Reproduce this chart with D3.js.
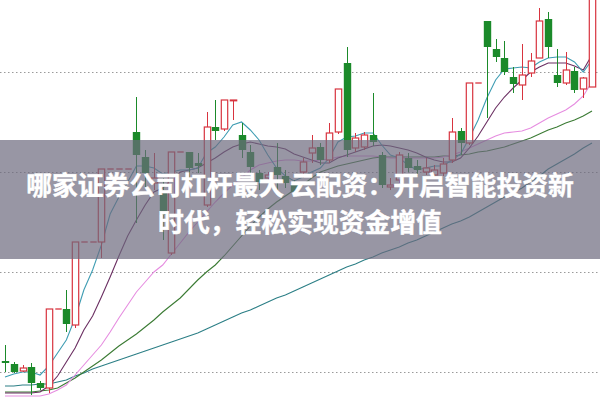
<!DOCTYPE html>
<html><head><meta charset="utf-8">
<script src="https://cdn.jsdelivr.net/npm/d3@7/dist/d3.min.js"></script>
<style>html,body{margin:0;padding:0;background:#fff;overflow:hidden}</style>
</head><body>
<svg id="chart" width="600" height="400"></svg>
<script>
// ---- data ----
const titleLines = ["哪家证券公司杠杆最大 云配资：开启智能投资新", "时代，轻松实现资金增值"];
const gridPrices = [6, 8, 10, 12];
const open  = [6.22,6.16,6.02,6.10,5.78,5.68,7.26,7.26,6.94,8.60, 8.60,8.60,10.06,10.06,10.06,10.80,10.30,9.78,9.64,8.38, 10.40,10.40,10.18,9.34,10.90,10.86,11.44,10.74,10.40,9.98, 9.88,10.10,9.92,9.74,10.00,10.38,10.50,10.24,10.80,12.18, 10.48,10.50,10.74,10.34,9.70,9.84,10.28,10.12,10.00,9.94, 9.98,10.24,10.82,10.58,11.78,13.02,12.46,12.28,11.90,11.74, 11.98,12.28,13.06,11.94,11.78,12.02,11.66,11.70];
const high  = [6.54,6.20,6.14,6.18,5.82,7.26,7.26,7.64,8.60,8.60, 8.60,10.06,10.06,10.06,10.06,11.50,10.44,10.38,9.88,10.40, 10.40,10.40,10.38,11.20,11.44,11.44,11.44,10.98,10.54,10.04, 10.00,10.58,10.04,9.84,10.28,10.74,10.58,10.98,11.66,12.50, 10.78,10.80,11.58,10.40,9.88,10.40,10.38,10.24,10.28,10.14, 10.28,11.08,10.88,11.78,11.78,13.02,12.66,12.62,12.10,12.56, 12.38,13.28,13.20,12.46,12.40,12.10,11.90,13.70];
const low   = [6.00,5.98,6.00,5.54,5.64,5.58,7.26,6.80,6.88,8.60, 8.60,8.28,10.06,10.06,10.06,8.98,9.70,9.64,8.64,8.34, 10.40,9.74,9.98,9.30,10.64,10.82,11.04,10.28,9.98,9.64, 9.80,9.64,9.68,9.54,9.88,10.18,10.14,10.18,10.76,10.30, 10.40,10.44,10.52,9.68,9.64,9.78,10.00,9.96,9.94,9.88, 9.92,10.18,10.34,10.54,11.78,11.08,12.20,11.94,11.58,11.44, 11.90,12.28,12.28,11.70,11.74,11.58,11.48,11.70];
const close = [6.18,6.00,6.08,5.78,5.68,7.26,7.26,6.96,8.60,8.60, 8.60,10.06,10.06,10.06,10.06,10.34,9.98,9.88,9.14,10.40, 10.40,10.08,10.12,10.90,10.82,11.44,11.44,10.44,10.10,9.80, 9.94,9.94,9.78,9.60,10.20,10.48,10.24,10.78,11.66,10.44, 10.68,10.74,10.60,9.74,9.74,10.34,10.08,10.04,10.08,10.04, 10.16,10.80,10.58,11.78,11.78,12.50,12.30,12.00,11.76,11.94, 12.22,13.02,12.50,11.78,12.04,11.64,11.88,13.64];
const ma5  = [5.90,5.96,6.00,6.00,5.94,6.12,6.38,6.64,7.08,7.64, 8.04,8.54,9.16,9.50,9.80,10.12,10.12,10.08,9.96,10.00, 10.04,10.04,10.08,10.38,10.50,10.70,10.94,11.00,10.84,10.64, 10.34,10.08,9.92,9.82,9.90,10.00,10.08,10.28,10.60,10.70, 10.72,10.78,10.78,10.54,10.34,10.28,10.14,10.04,10.08,10.12, 10.12,10.24,10.36,10.68,11.04,11.48,11.84,12.06,12.08,12.10, 12.08,12.20,12.28,12.30,12.30,12.20,12.00,12.24];
const ma10 = [5.58,5.58,5.58,5.58,5.60,5.72,5.92,6.20,6.48,6.84, 7.12,7.50,7.90,8.32,8.72,9.04,9.34,9.60,9.68,9.84, 10.00,10.04,10.08,10.18,10.28,10.40,10.50,10.56,10.60,10.56, 10.52,10.50,10.46,10.36,10.30,10.24,10.18,10.18,10.28,10.34, 10.40,10.46,10.52,10.54,10.52,10.48,10.44,10.38,10.30,10.24, 10.20,10.20,10.28,10.48,10.72,11.00,11.28,11.50,11.68,11.84, 12.00,12.10,12.18,12.18,12.18,12.12,12.04,12.34];
const ma20 = [5.52,5.52,5.52,5.52,5.52,5.56,5.64,5.74,5.94,6.14, 6.34,6.54,6.80,7.08,7.34,7.60,7.80,8.00,8.14,8.36, 8.58,8.80,9.00,9.20,9.40,9.58,9.74,9.88,10.04,10.14, 10.18,10.22,10.24,10.24,10.22,10.22,10.24,10.26,10.30,10.32, 10.32,10.32,10.32,10.30,10.28,10.28,10.28,10.28,10.28,10.28, 10.30,10.34,10.40,10.48,10.56,10.64,10.72,10.78,10.80,10.82, 10.88,10.98,11.08,11.16,11.24,11.36,11.52,11.80];
const ma30 = [5.60,5.60,5.60,5.60,5.62,5.64,5.68,5.78,5.88,6.00, 6.12,6.24,6.38,6.52,6.64,6.76,6.90,7.04,7.20,7.34, 7.48,7.66,7.84,8.00,8.14,8.32,8.52,8.72,8.92,9.10, 9.26,9.40,9.52,9.64,9.74,9.88,10.00,10.06,10.12,10.16, 10.20,10.24,10.28,10.30,10.30,10.30,10.30,10.30,10.30,10.30, 10.32,10.32,10.34,10.36,10.40,10.42,10.46,10.50,10.56,10.62, 10.68,10.76,10.84,10.90,10.98,11.04,11.12,11.22];
const ma60 = [5.72,5.72,5.74,5.74,5.76,5.76,5.80,5.84,5.92,5.98, 6.06,6.12,6.18,6.24,6.30,6.36,6.42,6.48,6.54,6.60, 6.66,6.72,6.78,6.86,6.94,7.02,7.10,7.18,7.24,7.32, 7.40,7.48,7.54,7.62,7.70,7.78,7.86,7.94,8.02,8.10, 8.16,8.24,8.30,8.38,8.44,8.50,8.58,8.64,8.72,8.80, 8.88,8.96,9.02,9.10,9.20,9.30,9.40,9.50,9.58,9.68, 9.80,9.92,10.06,10.16,10.26,10.36,10.48,10.58];
const maColors = ["#3f9db3", "#6b2f62", "#e68de0", "#3b7b34", "#2c7f86"];

// ---- chart ----
const W = 600, H = 400;
const svg = d3.select("#chart");
const n = close.length;
const x = d3.scaleLinear().domain([0, n - 1]).range([5, 592]);
const y = d3.scaleLinear().domain([6, 12]).range([372, 72]);
const bw = 6.4;

svg.append("rect").attr("width", W).attr("height", H).attr("fill", "#fff");

// grid
svg.append("g").selectAll("line").data(gridPrices).join("line")
  .attr("x1", 0).attr("x2", W)
  .attr("y1", d => Math.round(y(d)) + 0.5).attr("y2", d => Math.round(y(d)) + 0.5)
  .attr("stroke", "#9a9a9a").attr("stroke-width", 1)
  .attr("stroke-dasharray", "1.5,2.5");

// moving averages
const lineGen = d3.line().x((d, i) => x(i)).y(d => y(d));
[ma60, ma30, ma20, ma10, ma5].forEach((s, k) => {
  svg.append("path").datum(s)
    .attr("d", lineGen).attr("fill", "none")
    .attr("stroke", maColors[4 - k]).attr("stroke-width", 1.1);
});

// candles
const RED = "#d8343f", GREEN = "#1b8a2a";
const cg = svg.append("g");
for (let i = 0; i < n; i++) {
  const o = open[i], c = close[i], h = high[i], l = low[i];
  const cx = Math.round(x(i)) + 0.5;
  const up = c >= o;
  const col = up ? RED : GREEN;
  if (o === c && h === l) {
    cg.append("line").attr("x1", cx - bw / 2).attr("x2", cx + bw / 2)
      .attr("y1", y(c)).attr("y2", y(c)).attr("stroke", RED).attr("stroke-width", 1.3);
    continue;
  }
  const top = y(Math.max(o, c)), bot = y(Math.min(o, c));
  cg.append("line").attr("x1", cx).attr("x2", cx).attr("y1", y(h)).attr("y2", top)
    .attr("stroke", col).attr("stroke-width", 1);
  cg.append("line").attr("x1", cx).attr("x2", cx).attr("y1", bot).attr("y2", y(l))
    .attr("stroke", col).attr("stroke-width", 1);
  if (up) {
    cg.append("rect").attr("x", cx - bw / 2).attr("y", top)
      .attr("width", bw).attr("height", Math.max(0.8, bot - top))
      .attr("fill", "#fff").attr("stroke", RED).attr("stroke-width", 1.2);
  } else {
    cg.append("rect").attr("x", cx - bw / 2 - 0.5).attr("y", top)
      .attr("width", bw + 1).attr("height", Math.max(1, bot - top))
      .attr("fill", GREEN);
  }
}

// banner
svg.append("rect").attr("x", 0).attr("y", 140).attr("width", W).attr("height", 119)
  .attr("fill", "rgb(108,106,126)").attr("fill-opacity", 0.7);

svg.append("g").selectAll("text").data(titleLines).join("text")
  .attr("x", W / 2).attr("y", (d, i) => 183 + i * 37)
  .attr("text-anchor", "middle").attr("dominant-baseline", "central")
  .attr("font-family", "'Noto Sans CJK SC', sans-serif")
  .attr("font-weight", "bold").attr("font-size", 25.8)
  .attr("fill", "#fff").attr("stroke", "#fff").attr("stroke-width", 0.4)
  .text(d => d);
</script>
</body></html>
